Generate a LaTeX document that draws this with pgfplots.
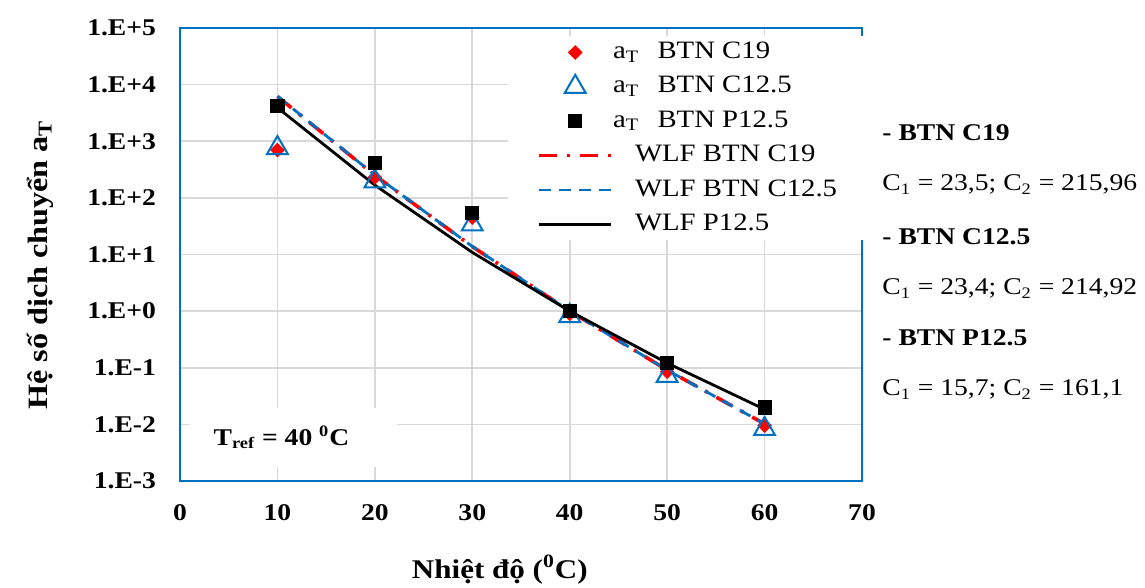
\documentclass[border=0pt]{standalone}
\usepackage{fontspec}
\setmainfont{Liberation Serif}[FakeStretch=1.15]
\usepackage{pgfplots}
\pgfplotsset{compat=1.18}
\definecolor{exblue}{HTML}{0070C0}
\definecolor{gridgray}{HTML}{D9D9D9}
\definecolor{exred}{HTML}{FF0000}
\pgfplotsset{
  legline/.style={legend image code/.code={\draw[##1] (0pt,0pt) -- (36pt,0pt);}},
  legmark/.style={legend image code/.code={\draw[##1] plot coordinates {(18pt,0pt)};}},
}
\begin{document}
\begin{tikzpicture}
\useasboundingbox (-90pt,-53.5pt) rectangle (482.5pt,240.5pt);
\begin{axis}[
  scale only axis, width=341pt, height=226.5pt,
  at={(0pt,0pt)}, anchor=south west,
  xmin=0, xmax=70, ymin=1e-3, ymax=1e5, ymode=log, log basis y=10,
  xtick={0,10,...,70},
  ytick={1e-3,1e-2,1e-1,1,1e1,1e2,1e3,1e4,1e5},
  yticklabels={1.E-3,1.E-2,1.E-1,1.E+0,1.E+1,1.E+2,1.E+3,1.E+4,1.E+5},
  yminorticks=false,
  major tick length=0pt,
  grid=major,
  grid style={gridgray, line width=0.8pt},
  axis line style={exblue, line width=0.9pt},
  /pgf/number format/assume math mode=true,
  tick label style={font=\bfseries\fontsize{12}{14}\selectfont},
  xticklabel style={yshift=-8pt},
  yticklabel style={xshift=-8.5pt},
  xlabel={Nhiệt độ (\textsuperscript{0}C)},
  xlabel style={at={(axis description cs:0.469,-0.196)}, anchor=center, font=\bfseries\fontsize{13.5}{16}\selectfont},
  ylabel={Hệ số dịch chuyển a\textsubscript{T}},
  ylabel style={at={(axis description cs:-0.205,0.477)}, anchor=center, font=\bfseries\fontsize{14}{16}\selectfont},
  legend cell align=left,
  legend style={draw=none, fill=white, at={(axis description cs:0.481,1)}, anchor=north west, yshift=-4pt,
    inner xsep=14.5pt, inner ysep=2pt, row sep=5.2pt, column sep=0pt,
    nodes={inner sep=0pt, text height=9pt, text depth=3pt},
    font=\fontsize{12.5}{14}\selectfont},
]
\addplot[only marks, mark=square*, exred, mark size=2.4pt, mark options={rotate=45}, legmark]
  table {
x y
10 700
20 230
30 45
40 0.9
50 0.085
60 0.0095
};
\addlegendentry{a\textsubscript{T}\hspace{0.45em} BTN C19}
\addplot[only marks, mark=triangle, exblue, mark size=6pt, mark options={line width=1pt}, legmark]
  table {
x y
10 760
20 195
30 34
40 0.82
50 0.072
60 0.0083
};
\addlegendentry{a\textsubscript{T}\hspace{0.45em} BTN C12.5}
\addplot[only marks, mark=square*, black, mark size=3.3pt, legmark]
  table {
x y
10 4200
20 410
30 55
40 1.0
50 0.123
60 0.020
};
\addlegendentry{a\textsubscript{T}\hspace{0.45em} BTN P12.5}
\addplot[exred, line width=1.8pt, dash pattern=on 9pt off 5pt on 1.5pt off 5pt, legline]
  table {
x y
10 6180
20 250
30 13.8
40 1
50 0.0912
60 0.0102
};
\addlegendentry{\hspace{11pt}WLF BTN C19}
\addplot[exblue, line width=1.4pt, dash pattern=on 6pt off 4pt, legline]
  table {
x y
10 6255
20 252
30 13.9
40 1
50 0.0911
60 0.0102
};
\addlegendentry{\hspace{11pt}WLF BTN C12.5}
\addplot[black, line width=1.4pt, legline]
  table {
x y
10 3917
20 168
30 10.9
40 1
50 0.121
60 0.01845
};
\addlegendentry{\hspace{11pt}WLF P12.5}
\node[fill=white, inner sep=0pt, minimum width=103.5pt, minimum height=29.5pt,
  font=\bfseries\fontsize{12}{14}\selectfont]
  at (axis description cs:0.1664,0.096) {\hspace*{-12pt}T\textsubscript{ref} = 40 \textsuperscript{0}C};
\end{axis}
\begin{scope}[every node/.style={anchor=base west, inner sep=0pt, font=\fontsize{12}{14}\selectfont}]
\node at (351pt,170pt) {\bfseries - BTN C19};
\node at (351pt,145pt) {C\textsubscript{1} = 23,5; C\textsubscript{2} = 215,96};
\node at (351pt,118pt) {\bfseries - BTN C12.5};
\node at (351pt,93pt) {C\textsubscript{1} = 23,4; C\textsubscript{2} = 214,92};
\node at (351pt,67.5pt) {\bfseries - BTN P12.5};
\node at (351pt,42.5pt) {C\textsubscript{1} = 15,7; C\textsubscript{2} = 161,1};
\end{scope}
\end{tikzpicture}
\end{document}
